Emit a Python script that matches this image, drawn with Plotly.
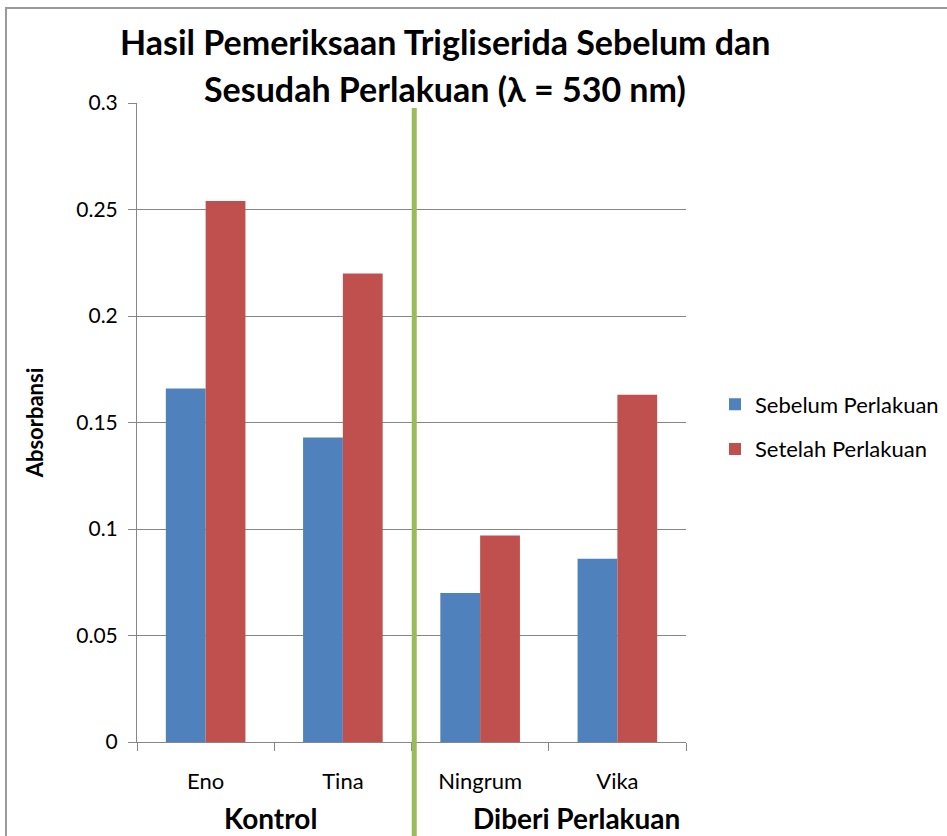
import plotly.graph_objects as go

categories = ["Eno", "Tina", "Ningrum", "Vika"]
sebelum = [0.166, 0.143, 0.070, 0.086]
setelah = [0.254, 0.220, 0.097, 0.163]
series_names = ["Sebelum Perlakuan", "Setelah Perlakuan"]
group_labels = ["Kontrol", "Diberi Perlakuan"]
title_lines = ["Hasil Pemeriksaan Trigliserida Sebelum dan", "Sesudah Perlakuan (λ = 530 nm)"]
y_ticks = [0, 0.05, 0.1, 0.15, 0.2, 0.25, 0.3]
y_tick_text = ["0", "0.05", "0.1", "0.15", "0.2", "0.25", "0.3"]

FONT = "Lato"
W, H = 947, 836
L, R, T, B = 137, 686, 103, 742

def px(xp):
    return (xp - L) / (R - L)

def py(yp):
    return (B - yp) / (B - T)

fig = go.Figure()
fig.add_trace(go.Bar(x=categories, y=sebelum, name=series_names[0], legendgroup="a",
                     marker=dict(color="#4F81BD", line=dict(width=0))))
fig.add_trace(go.Bar(x=categories, y=setelah, name=series_names[1], legendgroup="b",
                     marker=dict(color="#C0504D", line=dict(width=0))))

fig.update_layout(
    width=W, height=H,
    margin=dict(l=L, r=W - R, t=T, b=H - B, pad=0, autoexpand=False),
    paper_bgcolor="white", plot_bgcolor="white",
    barmode="group", bargap=0.42, bargroupgap=0,
    font=dict(family=FONT, color="black"),
    showlegend=True,
    legend=dict(x=px(715), xanchor="left", y=py(427), yanchor="middle",
                font=dict(size=22, family=FONT, color="black"),
                bgcolor="rgba(0,0,0,0)", tracegroupgap=13, traceorder="grouped",
                itemwidth=30),
)

fig.update_yaxes(range=[0, 0.3], tickvals=y_ticks, ticktext=y_tick_text,
                 showgrid=True, gridcolor="#868686", gridwidth=1,
                 showline=True, linecolor="#868686", linewidth=1,
                 ticks="outside", ticklen=8, tickcolor="#868686",
                 tickfont=dict(size=21, family=FONT, color="black"),
                 ticklabelstandoff=6, zeroline=False,
                 title=dict(text="<b>Absorbansi</b>", font=dict(size=22, family=FONT, color="black"),
                            standoff=26))
fig.update_xaxes(showline=True, linecolor="#868686", linewidth=1,
                 ticks="outside", ticklen=8, tickcolor="#868686", tickson="boundaries",
                 tickfont=dict(size=22, family=FONT, color="black"),
                 ticklabelstandoff=20, showgrid=False)

# chart border
fig.add_shape(type="rect", xref="paper", yref="paper",
              x0=px(6), x1=px(1200), y0=py(8), y1=py(1100),
              line=dict(color="#9A9A9A", width=2), fillcolor="rgba(0,0,0,0)", layer="below")
# green separator
fig.add_shape(type="line", xref="x", yref="paper", x0=1.52, x1=1.52,
              y0=py(108), y1=py(900), line=dict(color="#9BBB59", width=5))

fig.add_annotation(text="<b>" + title_lines[0] + "</b>", xref="paper", yref="paper",
                   x=px(445), y=py(42), showarrow=False, xanchor="center", yanchor="middle",
                   font=dict(size=34, family=FONT, color="black"))
fig.add_annotation(text="<b>" + title_lines[1] + "</b>", xref="paper", yref="paper",
                   x=px(445), y=py(89), showarrow=False, xanchor="center", yanchor="middle",
                   font=dict(size=34, family=FONT, color="black"))
fig.add_annotation(text="<b>" + group_labels[0] + "</b>", xref="paper", yref="paper",
                   x=px(270), y=py(818), showarrow=False, xanchor="center", yanchor="middle",
                   font=dict(size=28, family=FONT, color="black"))
fig.add_annotation(text="<b>" + group_labels[1] + "</b>", xref="paper", yref="paper",
                   x=px(576), y=py(818), showarrow=False, xanchor="center", yanchor="middle",
                   font=dict(size=28, family=FONT, color="black"))

fig.write_html("out.html", config={"displayModeBar": False},
               post_script="document.body.style.margin='0';document.body.style.overflow='hidden';")
